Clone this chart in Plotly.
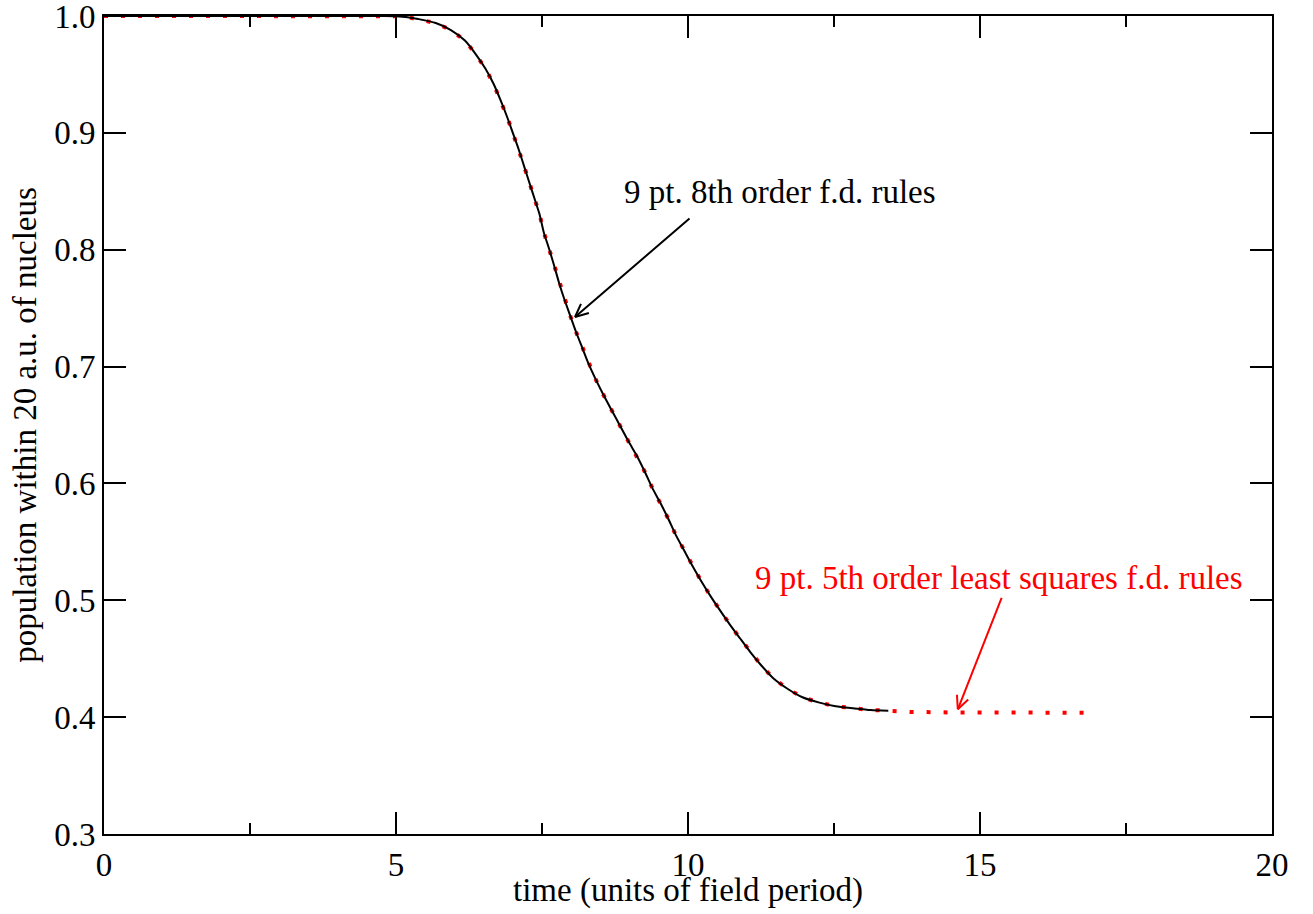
import plotly.graph_objects as go

# time (units of field period) and population within 20 a.u. of nucleus
t_8th = [0, 1, 2, 3, 4, 4.8, 5.0, 5.2, 5.38, 5.68, 5.94, 6.18, 6.37, 6.53, 6.67, 6.79,
         6.90, 7.00, 7.10, 7.19, 7.28, 7.37, 7.46, 7.53, 7.62, 7.71, 7.79, 7.88, 7.98,
         8.08, 8.19, 8.30, 8.42, 8.56, 8.70, 8.84, 8.98, 9.13, 9.26, 9.39, 9.53, 9.66,
         9.79, 9.93, 10.07, 10.22, 10.38, 10.54, 10.72, 10.89, 11.07, 11.26, 11.46,
         11.71, 11.96, 12.25, 12.53, 12.83, 13.13, 13.43]
pop_8th = [1.0, 1.0, 1.0, 1.0, 1.0, 1.0, 0.9998, 0.999, 0.9974, 0.994, 0.988, 0.979, 0.967,
           0.955, 0.942, 0.928, 0.914, 0.900, 0.886, 0.872, 0.858, 0.844, 0.830, 0.815,
           0.801, 0.786, 0.772, 0.758, 0.744, 0.730, 0.716, 0.702, 0.689, 0.675, 0.662,
           0.649, 0.636, 0.623, 0.610, 0.596, 0.583, 0.570, 0.556, 0.543, 0.530, 0.517,
           0.504, 0.492, 0.479, 0.4675, 0.4555, 0.444, 0.4333, 0.4241, 0.417, 0.4124,
           0.4093, 0.4076, 0.4061, 0.4055]

t_ls_extra = [13.8, 14.5, 15.5, 16.8]
pop_ls_extra = [0.4045, 0.4040, 0.4038, 0.4038]
t_ls = t_8th + t_ls_extra
pop_ls = pop_8th + pop_ls_extra

x_ticks = [0, 5, 10, 15, 20]
y_ticks = [0.3, 0.4, 0.5, 0.6, 0.7, 0.8, 0.9, 1.0]
y_ticklabels = ["0.3", "0.4", "0.5", "0.6", "0.7", "0.8", "0.9", "1.0"]

FONT = "Liberation Serif"
FS = 33

fig = go.Figure()
fig.add_trace(go.Scatter(x=t_ls, y=pop_ls, mode="lines", cliponaxis=False,
                         line=dict(color="#ff0000", width=4, dash="4px,13px"),
                         showlegend=False))
fig.add_trace(go.Scatter(x=t_8th, y=pop_8th, mode="lines", cliponaxis=False,
                         line=dict(color="black", width=2, shape="spline", smoothing=0.6),
                         showlegend=False))

axis_common = dict(showline=True, linecolor="black", linewidth=2, mirror="ticks",
                   ticks="inside", ticklen=22, tickwidth=2, tickcolor="black",
                   showgrid=False, zeroline=False, automargin=False,
                   ticklabeloverflow="allow",
                   tickfont=dict(family=FONT, size=FS, color="black"))

fig.update_xaxes(range=[0, 20], tickvals=x_ticks, ticktext=[str(v) for v in x_ticks],
                 minor=dict(dtick=2.5, ticks="inside", ticklen=11, tickwidth=2,
                            tickcolor="black", showgrid=False),
                 **axis_common)
fig.update_yaxes(range=[0.3, 1.0], tickvals=y_ticks, ticktext=y_ticklabels,
                 title=dict(text="population within 20 a.u. of nucleus", standoff=8,
                            font=dict(family=FONT, size=FS, color="black")),
                 **axis_common)

annotations = [
    dict(xref="paper", yref="paper", x=0.5, y=-0.0685, text="time (units of field period)",
         showarrow=False, xanchor="center", yanchor="middle",
         font=dict(family=FONT, size=FS, color="black")),
    dict(x=11.575, y=0.8494, text="9 pt. 8th order f.d. rules", showarrow=False,
         xanchor="center", yanchor="middle", font=dict(family=FONT, size=FS, color="black")),
    dict(x=15.325, y=0.519, text="9 pt. 5th order least squares f.d. rules", showarrow=False,
         xanchor="center", yanchor="middle", font=dict(family=FONT, size=FS, color="#ff0000")),
]
# arrows (tip, tail offset in px, wing offsets in px)
arrows = [
    (8.065, 0.7424, "black", [(115, -99), (14.4, -4.1), (6.2, -13.7)]),
    (14.62, 0.4067, "#ff0000", [(44, -112), (10.9, -10.3), (-0.9, -15.0)]),
]
for x, y, col, segs in arrows:
    for ax, ay in segs:
        annotations.append(dict(x=x, y=y, ax=ax, ay=ay, text="", showarrow=True,
                                arrowhead=0, arrowwidth=2, arrowcolor=col, standoff=0,
                                startstandoff=0, font=dict(size=1), borderpad=0))

fig.update_layout(width=1313, height=914, margin=dict(l=104, r=41, t=16, b=80, autoexpand=False),
                  paper_bgcolor="white", plot_bgcolor="white", annotations=annotations,
                  showlegend=False,
                  font=dict(family=FONT, size=FS, color="black"))

fig.write_html("out.html")
